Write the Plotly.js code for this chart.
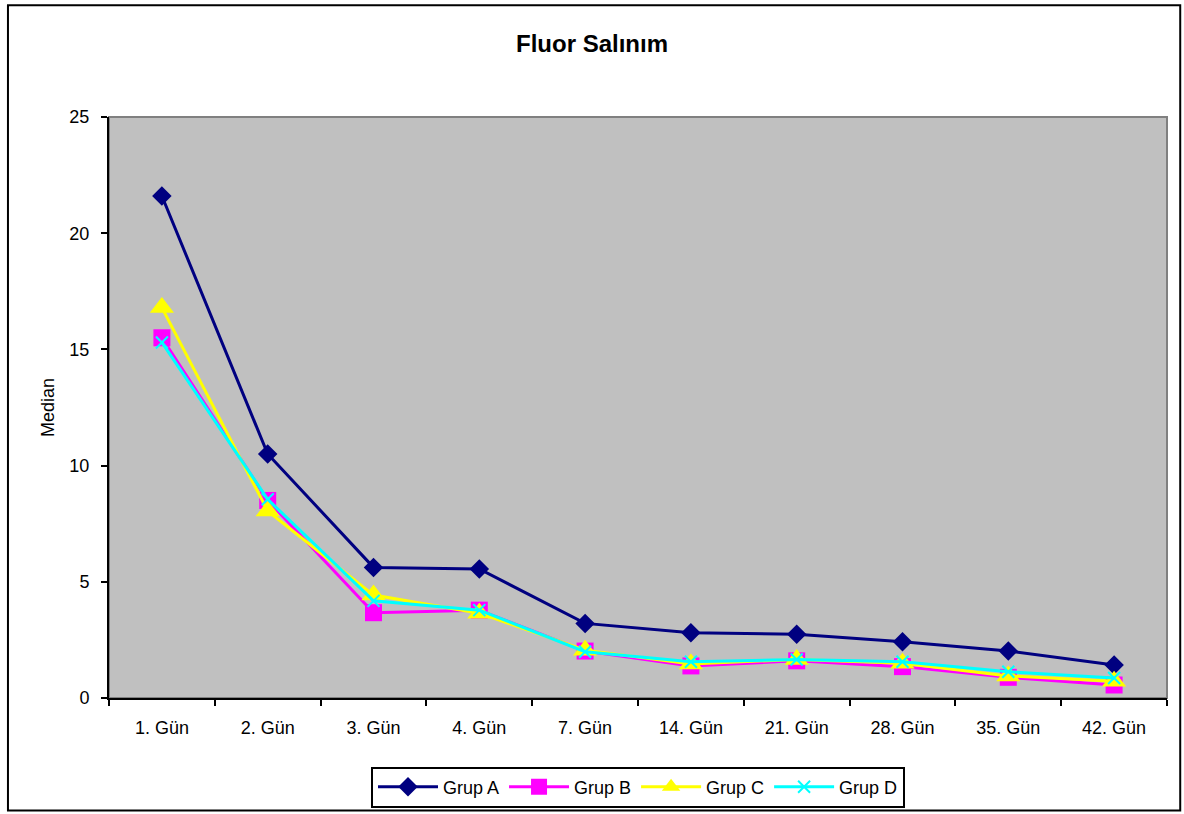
<!DOCTYPE html>
<html>
<head>
<meta charset="utf-8">
<script src="https://cdn.plot.ly/plotly-3.0.1.min.js"></script>
<style>
  html, body { margin: 0; padding: 0; background: #ffffff; }
  #chart { width: 1184px; height: 814px; }
</style>
</head>
<body>
<div id="chart"></div>
<script>
// Measurement days
const days = ["1. Gün", "2. Gün", "3. Gün", "4. Gün", "7. Gün", "14. Gün", "21. Gün", "28. Gün", "35. Gün", "42. Gün"];

// Median fluoride release per group
const grupA = [21.6, 10.5, 5.62, 5.55, 3.21, 2.81, 2.74, 2.42, 2.02, 1.42];
const grupB = [15.5, 8.5, 3.67, 3.78, 2.02, 1.38, 1.60, 1.35, 0.89, 0.56];
const grupC = [16.8, 8.05, 4.43, 3.65, 2.06, 1.46, 1.66, 1.50, 0.95, 0.72];
const grupD = [15.3, 8.55, 4.18, 3.78, 1.99, 1.56, 1.66, 1.56, 1.13, 0.86];

const seriesNames = ["Grup A", "Grup B", "Grup C", "Grup D"];

function series(name, y, color, symbol, size, markerExtra) {
  return {
    type: "scatter",
    mode: "lines+markers",
    name: name,
    x: days,
    y: y,
    line: { color: color, width: 3 },
    marker: Object.assign({ symbol: symbol, size: size, color: color }, markerExtra || {})
  };
}

const traces = [
  series(seriesNames[0], grupA, "#000080", "diamond", 15),
  series(seriesNames[1], grupB, "#FF00FF", "square", 17),
  series(seriesNames[2], grupC, "#FFFF00", "triangle-up", 21),
  series(seriesNames[3], grupD, "#00FFFF", "x-thin-open", 12, { line: { color: "#00FFFF", width: 2 } })
];

const font = "Liberation Sans, Arial, sans-serif";

const layout = {
  width: 1184,
  height: 814,
  paper_bgcolor: "#ffffff",
  plot_bgcolor: "#C0C0C0",
  margin: { l: 109, r: 17, t: 117, b: 116, autoexpand: false },
  font: { family: font, size: 18, color: "#000000" },
  title: {
    text: "<b>Fluor Salınım</b>",
    font: { family: font, size: 24, color: "#000000" },
    x: 0.5, xanchor: "center",
    y: 0.946, yanchor: "middle", yref: "container"
  },
  showlegend: true,
  legend: {
    orientation: "h",
    x: 0.5, xanchor: "center",
    y: -0.118, yanchor: "top",
    bordercolor: "#000000", borderwidth: 2,
    bgcolor: "#ffffff",
    font: { family: font, size: 18 },
    itemwidth: 60,
    tracegroupgap: 0
  },
  xaxis: {
    type: "category",
    showgrid: false,
    zeroline: false,
    showline: true, linecolor: "#000000", linewidth: 2,
    ticks: "outside", tickson: "boundaries", ticklen: 6, tickcolor: "#000000", tickwidth: 2,
    ticklabelstandoff: 12,
    tickfont: { family: font, size: 18 },
    range: [-0.5, 9.5]
  },
  yaxis: {
    range: [0, 25],
    dtick: 5,
    showgrid: false,
    zeroline: false,
    showline: true, linecolor: "#000000", linewidth: 2,
    ticks: "outside", ticklen: 6, tickcolor: "#000000", tickwidth: 2,
    ticklabelstandoff: 8,
    tickfont: { family: font, size: 18 },
    title: { text: "Median", font: { family: font, size: 18 }, standoff: 10 }
  },
  shapes: [
    // plot area frame (top and right edges in gray)
    { type: "rect", xref: "paper", yref: "paper", x0: 0, x1: 1, y0: 0, y1: 1,
      line: { color: "#808080", width: 2 }, layer: "below" },
    // outer chart border
    { type: "rect", xref: "paper", yref: "paper", x0: -0.0955, x1: 1.0125, y0: -0.1935, y1: 1.1925,
      line: { color: "#000000", width: 2 } }
  ]
};

Plotly.newPlot("chart", traces, layout, { displayModeBar: false, staticPlot: true });
</script>
</body>
</html>
